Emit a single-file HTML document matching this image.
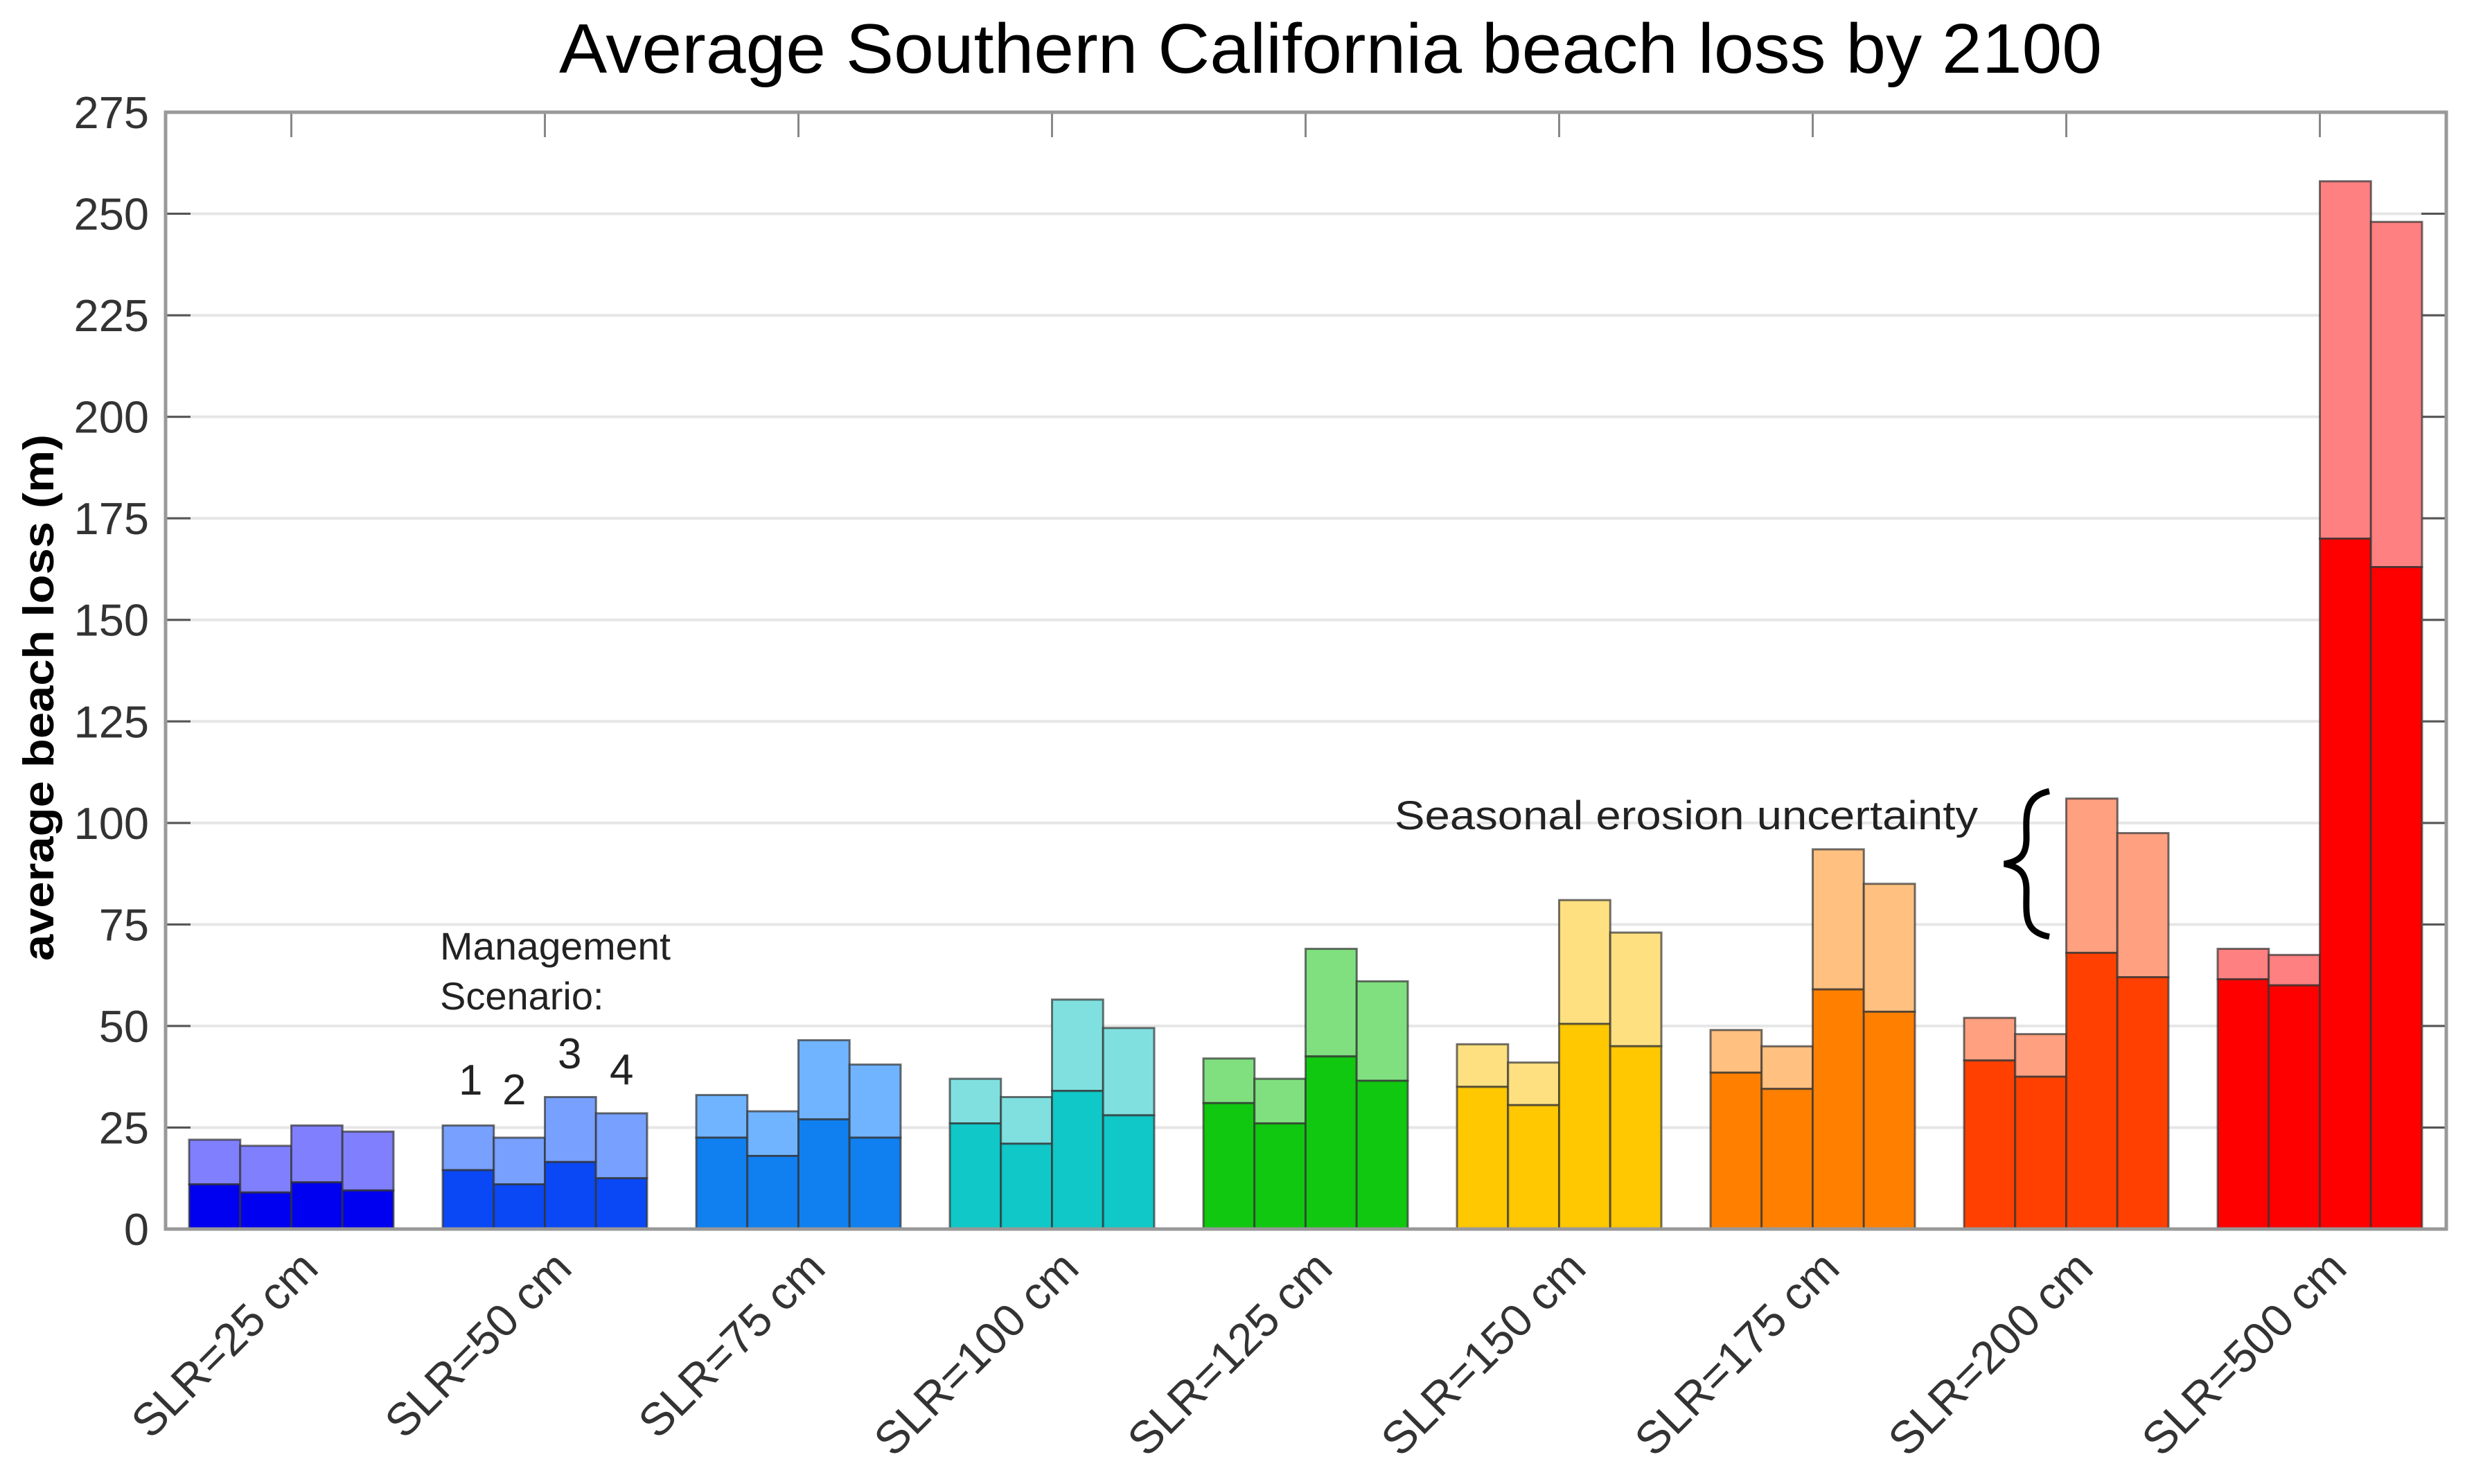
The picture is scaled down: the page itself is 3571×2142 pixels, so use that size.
<!DOCTYPE html>
<html><head><meta charset="utf-8"><style>
html,body{margin:0;padding:0;background:#fff;}
svg{display:block;font-family:"Liberation Sans",sans-serif;}
</style></head><body>
<svg id="chart" width="3571" height="2142" viewBox="0 0 3571 2142">
<rect x="0" y="0" width="3571" height="2142" fill="#fff"/>
<text x="807" y="105" font-size="101" textLength="2227" lengthAdjust="spacingAndGlyphs" fill="#000">Average Southern California beach loss by 2100</text>
<g id="grid"></g>
<g id="bars"></g>
<g id="axes"></g>
<text transform="translate(77,1007) rotate(-90)" text-anchor="middle" font-size="62" font-weight="bold" textLength="760" lengthAdjust="spacingAndGlyphs" fill="#000">average beach loss (m)</text>
<g fill="#222" font-size="56">
<text x="635" y="1385" textLength="333" lengthAdjust="spacingAndGlyphs">Management</text>
<text x="635" y="1457">Scenario:</text>
<text x="662" y="1580" font-size="62">1</text>
<text x="725" y="1594" font-size="62">2</text>
<text x="805" y="1542" font-size="62">3</text>
<text x="880" y="1565" font-size="62">4</text>
</g>
<text x="2013" y="1197" font-size="58" textLength="842" lengthAdjust="spacingAndGlyphs" fill="#222">Seasonal erosion uncertainty</text>
<path d="M2958,1142 C2920,1150 2925,1180 2925,1210 C2925,1235 2915,1243 2893,1247 C2915,1251 2925,1260 2925,1285 C2925,1320 2920,1345 2958,1352" fill="none" stroke="#000" stroke-width="9"/>
</svg>
<script>
const categories = ["SLR=25 cm","SLR=50 cm","SLR=75 cm","SLR=100 cm","SLR=125 cm","SLR=150 cm","SLR=175 cm","SLR=200 cm","SLR=500 cm"];
const totals = [
 [22,20.5,25.5,24],[25.5,22.5,32.5,28.5],[33,29,46.5,40.5],[37,32.5,56.5,49.5],
 [42,37,69,61],[45.5,41,81,73],[49,45,93.5,85],[52,48,106,97.5],[69,67.5,258,248]];
const bases = [
 [11,9,11.5,9.5],[14.5,11,16.5,12.5],[22.5,18,27,22.5],[26,21,34,28],
 [31,26,42.5,36.5],[35,30.5,50.5,45],[38.5,34.5,59,53.5],[41.5,37.5,68,62],[61.5,60,170,163]];
const yTicks = [0,25,50,75,100,125,150,175,200,225,250,275];
const darkColors = ["#0000f0","#0a48f5","#1080f0","#10c8c8","#10c810","#ffc800","#ff8000","#ff4000","#ff0000"];
const lightColors = ["#8080ff","#78a0ff","#70b4ff","#80e0e0","#80e080","#ffe080","#ffc080","#ffa080","#ff8080"];

const NS="http://www.w3.org/2000/svg";
const X0=239,X1=3531,Y0=1774,Y1=162,YMAX=275;
const groupLeft0=273, groupStep=366, barW=73.75;
function yScale(v){return Y0-(v/YMAX)*(Y0-Y1);}
function xBar(g,i){return groupLeft0+g*groupStep+i*barW;}
function xCenter(g){return groupLeft0+g*groupStep+2*barW;}
function mk(tag,attrs,parent){const e=document.createElementNS(NS,tag);for(const k in attrs)e.setAttribute(k,attrs[k]);parent.appendChild(e);return e;}
const grid=document.getElementById('grid'),bars=document.getElementById('bars'),axes=document.getElementById('axes');
yTicks.forEach(t=>{
  const y=yScale(t);
  if(t>0&&t<YMAX){const l=mk('line',{x1:X0,x2:X1,y1:y,y2:y,stroke:'#e6e6e6','stroke-width':4},grid);
  
  }
  const a=mk('line',{x1:X0,x2:X0+36,y1:y,y2:y,stroke:'#555','stroke-width':3},axes);
  
  
  const b=mk('line',{x1:X1-36,x2:X1,y1:y,y2:y,stroke:'#555','stroke-width':3},axes);
  
  
  const tx=mk('text',{x:215,y:y+23,'text-anchor':'end','font-size':65,fill:'#333'},axes);
  tx.textContent=t;
  
  
});
categories.forEach((c,g)=>{
  for(let i=0;i<4;i++){
    const x=xBar(g,i);
    const r1=mk('rect',{x:x,y:yScale(totals[g][i]),width:barW,height:yScale(bases[g][i])-yScale(totals[g][i]),fill:lightColors[g],stroke:'#333','stroke-opacity':0.7,'stroke-width':3},bars);
    
    
    const r2=mk('rect',{x:x,y:yScale(bases[g][i]),width:barW,height:Y0-yScale(bases[g][i]),fill:darkColors[g],stroke:'#333','stroke-opacity':0.7,'stroke-width':3},bars);
    
    
  }
  const cx=xCenter(g);
  const tk=mk('line',{x1:cx,x2:cx,y1:Y1,y2:Y1+36,stroke:'#888','stroke-width':3},axes);
  
  
  const lb=mk('text',{transform:'translate('+(cx+42)+',1834) rotate(-45)','text-anchor':'end','font-size':66,fill:'#333'},axes);
  lb.textContent=c;
  
  
});
const frame=mk('rect',{x:X0,y:Y1,width:X1-X0,height:Y0-Y1,fill:'none',stroke:'#999','stroke-width':5},axes);


</script>
</body></html>
